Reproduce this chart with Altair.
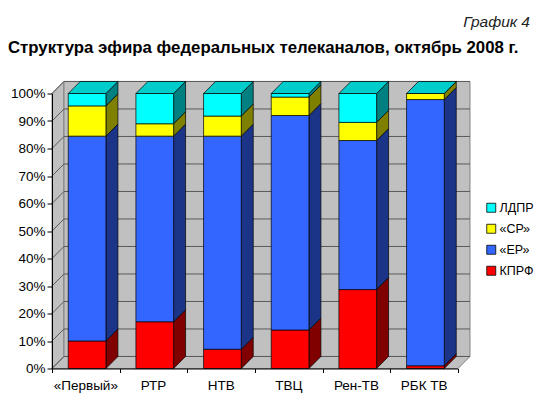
import altair as alt
import pandas as pd

# ---- data ----
channels = ["«Первый»", "РТР", "НТВ", "ТВЦ", "Рен-ТВ", "РБК ТВ"]
series = ["КПРФ", "«ЕР»", "«СР»", "ЛДПР"]          # bottom -> top
kprf = [10.0, 17.0, 7.0, 14.0, 28.7, 1.0]
er = [74.5, 67.5, 77.5, 78.0, 54.2, 96.8]
sr = [11.0, 4.5, 7.3, 6.7, 6.6, 2.2]
ldpr = [4.5, 11.0, 8.2, 1.3, 10.5, 0.0]
ticks = [0, 10, 20, 30, 40, 50, 60, 70, 80, 90, 100]
legend_order = ["ЛДПР", "«СР»", "«ЕР»", "КПРФ"]

values = {"КПРФ": kprf, "«ЕР»": er, "«СР»": sr, "ЛДПР": ldpr}
front_colors = {"КПРФ": "#FF0000", "«ЕР»": "#3366FF", "«СР»": "#FFFF00", "ЛДПР": "#00FFFF"}
side_colors = {"КПРФ": "#800000", "«ЕР»": "#1C3488", "«СР»": "#808000", "ЛДПР": "#008080"}
top_colors = {"КПРФ": "#CC0000", "«ЕР»": "#2952CC", "«СР»": "#CCCC00", "ЛДПР": "#00CCCC"}

# ---- 3D styling constants ----
N = len(channels)
BAR_OFF = 0.24
BAR_W = 0.557
DX = 0.177   # depth in category units
DY = 4.37    # depth in percent units
W, H = 406, 275
FONT = "Liberation Sans"

front_rows, side_rows, top_rows = [], [], []
for i, ch in enumerate(channels):
    base = 0.0
    x0 = i + BAR_OFF
    x1 = x0 + BAR_W
    for s in series:
        v = values[s][i]
        front_rows.append(dict(channel=ch, series=s, x0=x0, x1=x1, y0=base, y1=base + v))
        seg = f"{i}-{s}"
        side_rows.append(dict(seg=seg, fill=side_colors[s], x=x1, lo=base, hi=base + v))
        side_rows.append(dict(seg=seg, fill=side_colors[s], x=x1 + DX, lo=base + DY, hi=base + v + DY))
        base += v
    tc = top_colors[series[-1]]
    top_rows.append(dict(seg=str(i), fill=tc, y=base, xa=x0, xb=x1))
    top_rows.append(dict(seg=str(i), fill=tc, y=base + DY, xa=x0 + DX, xb=x1 + DX))

front_df = pd.DataFrame(front_rows)
side_df = pd.DataFrame(side_rows)
top_df = pd.DataFrame(top_rows)

ymax = float(ticks[-1])
sidewall_df = pd.DataFrame([dict(x=0.0, lo=0.0, hi=ymax), dict(x=DX, lo=DY, hi=ymax + DY)])
floor_df = pd.DataFrame([dict(y=0.0, xa=0.0, xb=float(N)), dict(y=DY, xa=DX, xb=N + DX)])
backwall_df = pd.DataFrame([dict(xa=DX, xb=N + DX, ya=DY, yb=ymax + DY)])
grid_back_df = pd.DataFrame([dict(xa=DX, xb=N + DX, ya=t + DY, yb=t + DY) for t in ticks])
grid_side_df = pd.DataFrame([dict(xa=0.0, xb=DX, ya=float(t), yb=t + DY) for t in ticks])
label_df = pd.DataFrame(dict(channel=channels, xc=[i + 0.5 for i in range(N)]))

xscale = alt.Scale(domain=[0, N], nice=False, zero=False)
yscale = alt.Scale(domain=[0, ymax], nice=False, zero=False)
xaxis = alt.Axis(values=list(range(N + 1)), labels=False, title=None, grid=False,
                 tickSize=4, domainColor="black", tickColor="black", zindex=1)
yaxis = alt.Axis(values=ticks, labelExpr="datum.value + '%'", title=None, grid=False,
                 tickSize=5, domainColor="black", tickColor="black", labelColor="black",
                 labelFontSize=13.5, labelFont=FONT, labelPadding=2, zindex=1)

WALL = "#C0C0C0"
WALL_STROKE = "#808080"

sidewall = alt.Chart(sidewall_df).mark_area(orient="vertical", fill=WALL, stroke=WALL_STROKE, strokeWidth=1).encode(
    x=alt.X("x:Q", scale=xscale, axis=xaxis),
    y=alt.Y("lo:Q", scale=yscale, axis=yaxis, stack=None),
    y2="hi:Q",
)
floor = alt.Chart(floor_df).mark_area(orient="horizontal", fill=WALL, stroke=WALL_STROKE, strokeWidth=1).encode(
    y=alt.Y("y:Q", scale=yscale, axis=yaxis),
    x=alt.X("xa:Q", scale=xscale, axis=xaxis, stack=None),
    x2="xb:Q",
)
backwall = alt.Chart(backwall_df).mark_rect(fill=WALL, stroke=WALL_STROKE, strokeWidth=1).encode(
    x=alt.X("xa:Q", scale=xscale, axis=xaxis), x2="xb:Q",
    y=alt.Y("ya:Q", scale=yscale, axis=yaxis), y2="yb:Q",
)
grid_back = alt.Chart(grid_back_df).mark_rule(color="#5a5a5a", strokeWidth=1).encode(
    x=alt.X("xa:Q", scale=xscale, axis=xaxis), x2="xb:Q",
    y=alt.Y("ya:Q", scale=yscale, axis=yaxis), y2="yb:Q",
)
grid_side = alt.Chart(grid_side_df).mark_rule(color="#5a5a5a", strokeWidth=1).encode(
    x=alt.X("xa:Q", scale=xscale, axis=xaxis), x2="xb:Q",
    y=alt.Y("ya:Q", scale=yscale, axis=yaxis), y2="yb:Q",
)
sides = alt.Chart(side_df).mark_area(orient="vertical", stroke="black", strokeWidth=0.7).encode(
    x=alt.X("x:Q", scale=xscale, axis=xaxis),
    y=alt.Y("lo:Q", scale=yscale, axis=yaxis, stack=None),
    y2="hi:Q",
    fill=alt.Fill("fill:N", scale=None),
    detail="seg:N",
)
fronts = alt.Chart(front_df).mark_rect(stroke="black", strokeWidth=0.7).encode(
    x=alt.X("x0:Q", scale=xscale, axis=xaxis), x2="x1:Q",
    y=alt.Y("y0:Q", scale=yscale, axis=yaxis), y2="y1:Q",
    color=alt.Color(
        "series:N",
        scale=alt.Scale(domain=legend_order, range=[front_colors[s] for s in legend_order]),
        legend=alt.Legend(title=None, orient="none", legendX=433, legendY=108,
                          symbolType="square", symbolSize=81, symbolStrokeColor="black",
                          symbolStrokeWidth=0.8, labelFontSize=12.5, labelFont=FONT,
                          labelColor="black", rowPadding=8, labelOffset=2, padding=0),
    ),
)
tops = alt.Chart(top_df).mark_area(orient="horizontal", stroke="black", strokeWidth=0.7).encode(
    y=alt.Y("y:Q", scale=yscale, axis=yaxis),
    x=alt.X("xa:Q", scale=xscale, axis=xaxis, stack=None),
    x2="xb:Q",
    fill=alt.Fill("fill:N", scale=None),
    detail="seg:N",
)
labels = alt.Chart(label_df).mark_text(font=FONT, fontSize=13.5, color="black", baseline="middle").encode(
    x=alt.X("xc:Q", scale=xscale, axis=xaxis),
    y=alt.value(H + 17),
    text="channel:N",
)
title = alt.Chart(pd.DataFrame([{"t": "Структура эфира федеральных телеканалов, октябрь 2008 г."}])).mark_text(
    font=FONT, fontSize=16.8, fontWeight="bold", color="black", align="left", baseline="alphabetic"
).encode(x=alt.value(-44), y=alt.value(-40.5), text="t:N")
subtitle = alt.Chart(pd.DataFrame([{"t": "График 4"}])).mark_text(
    font=FONT, fontSize=15.5, fontStyle="italic", color="#222222", align="right", baseline="alphabetic"
).encode(x=alt.value(478), y=alt.value(-66.5), text="t:N")

chart = alt.layer(
    sidewall, floor, backwall, grid_back, grid_side, sides, fronts, tops, labels, title, subtitle
).properties(
    width=W, height=H,
    autosize=alt.AutoSizeParams(type="none"),
    padding={"left": 44, "top": 85.5, "right": 84, "bottom": 25.5},
    background="white",
).configure_view(stroke=None)

chart.save("out.html", embed_options={"renderer": "svg", "actions": False})
